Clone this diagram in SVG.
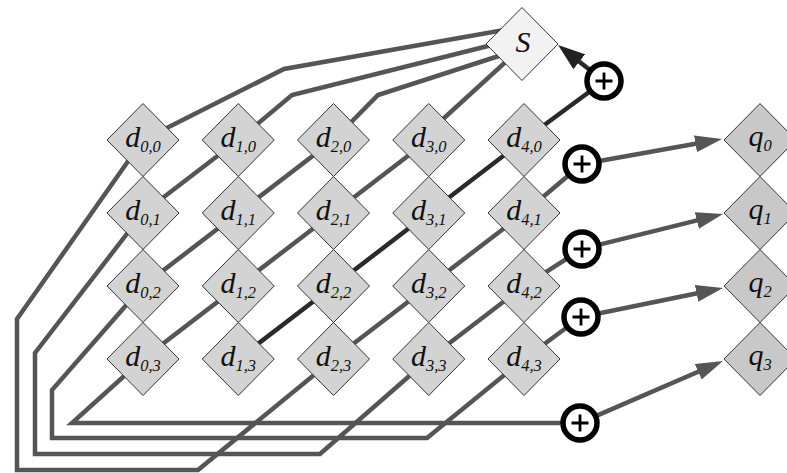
<svg xmlns="http://www.w3.org/2000/svg" width="787" height="473" viewBox="0 0 787 473">
<style>
.ln{fill:none;stroke:#555;stroke-width:4.5;stroke-linejoin:miter}
.dk{fill:none;stroke:#2a2a2a;stroke-width:4.5}
.dd{fill:#d3d3d3;stroke:#333;stroke-width:1}
.qd{fill:#c8c8c8;stroke:#333;stroke-width:1}
.sd{fill:#f2f2f2;stroke:#333;stroke-width:1}
.lb{font-family:"Liberation Serif","Times New Roman",serif;font-style:italic;font-size:30px;fill:#111}
.sb{font-size:16.5px}
.xo circle{fill:#fff;stroke:#000;stroke-width:5.5}
.xo path{stroke:#000;stroke-width:2.8;fill:none}
</style>
<defs>
<polygon id="dia" points="0,-36.5 36,0 0,36.5 -36,0"/>
<marker id="ah" markerUnits="userSpaceOnUse" viewBox="0 0 27 17" markerWidth="27" markerHeight="17" refX="17" refY="8.5" orient="auto"><path d="M0,0 L27,8.5 L0,17 Z" fill="#555"/></marker>
<marker id="ahd" markerUnits="userSpaceOnUse" viewBox="0 0 27 19" markerWidth="27" markerHeight="19" refX="17" refY="9.5" orient="auto"><path d="M0,0 L27,9.5 L0,19 Z" fill="#222"/></marker>
</defs>
<g id="connectors">
<path class="ln" d="M510,29 L284,69 L143,140 L17,319 L17,470 L198,470 L333.5,359 L428.75,286 L524,213 L582,164"/>
<path class="ln" d="M500,43 L292,95 L238.25,140 L143,213 L35,353 L35,454 L320,454 L428.75,359 L524,286 L582,249"/>
<path class="ln" d="M505,54 L378,95 L333.5,140 L143,286 L52,390 L52,438 L427,438 L524,359 L581,317"/>
<path class="ln" d="M510,58 L443,119 L428.75,140 L143,359 L72,423 L580,423"/>
<path class="dk" d="M238.25,359 L333.5,286 L428.75,213 L524,140 L604,81"/>
<path class="dk" d="M589,69.3 L565.9,51.2" marker-end="url(#ahd)"/>
<path class="ln" d="M600.7,160.7 L712.2,140.8" marker-end="url(#ah)"/>
<path class="ln" d="M600.4,244.4 L713.3,216.4" marker-end="url(#ah)"/>
<path class="ln" d="M599.6,313.2 L713.2,290" marker-end="url(#ah)"/>
<path class="ln" d="M597.4,415.4 L713.8,365" marker-end="url(#ah)"/>
</g>
<g id="S"><use href="#dia" class="sd" x="522" y="44"/><text class="lb" x="523" y="52" text-anchor="middle">S</text></g>
<g id="d00"><use href="#dia" class="dd" x="143" y="140"/><text class="lb" x="143" y="147" text-anchor="middle">d<tspan class="sb" dy="5">0,0</tspan></text></g>
<g id="d10"><use href="#dia" class="dd" x="238.25" y="140"/><text class="lb" x="238.25" y="147" text-anchor="middle">d<tspan class="sb" dy="5">1,0</tspan></text></g>
<g id="d20"><use href="#dia" class="dd" x="333.5" y="140"/><text class="lb" x="333.5" y="147" text-anchor="middle">d<tspan class="sb" dy="5">2,0</tspan></text></g>
<g id="d30"><use href="#dia" class="dd" x="428.75" y="140"/><text class="lb" x="428.75" y="147" text-anchor="middle">d<tspan class="sb" dy="5">3,0</tspan></text></g>
<g id="d40"><use href="#dia" class="dd" x="524" y="140"/><text class="lb" x="524" y="147" text-anchor="middle">d<tspan class="sb" dy="5">4,0</tspan></text></g>
<g id="d01"><use href="#dia" class="dd" x="143" y="213"/><text class="lb" x="143" y="220" text-anchor="middle">d<tspan class="sb" dy="5">0,1</tspan></text></g>
<g id="d11"><use href="#dia" class="dd" x="238.25" y="213"/><text class="lb" x="238.25" y="220" text-anchor="middle">d<tspan class="sb" dy="5">1,1</tspan></text></g>
<g id="d21"><use href="#dia" class="dd" x="333.5" y="213"/><text class="lb" x="333.5" y="220" text-anchor="middle">d<tspan class="sb" dy="5">2,1</tspan></text></g>
<g id="d31"><use href="#dia" class="dd" x="428.75" y="213"/><text class="lb" x="428.75" y="220" text-anchor="middle">d<tspan class="sb" dy="5">3,1</tspan></text></g>
<g id="d41"><use href="#dia" class="dd" x="524" y="213"/><text class="lb" x="524" y="220" text-anchor="middle">d<tspan class="sb" dy="5">4,1</tspan></text></g>
<g id="d02"><use href="#dia" class="dd" x="143" y="286"/><text class="lb" x="143" y="293" text-anchor="middle">d<tspan class="sb" dy="5">0,2</tspan></text></g>
<g id="d12"><use href="#dia" class="dd" x="238.25" y="286"/><text class="lb" x="238.25" y="293" text-anchor="middle">d<tspan class="sb" dy="5">1,2</tspan></text></g>
<g id="d22"><use href="#dia" class="dd" x="333.5" y="286"/><text class="lb" x="333.5" y="293" text-anchor="middle">d<tspan class="sb" dy="5">2,2</tspan></text></g>
<g id="d32"><use href="#dia" class="dd" x="428.75" y="286"/><text class="lb" x="428.75" y="293" text-anchor="middle">d<tspan class="sb" dy="5">3,2</tspan></text></g>
<g id="d42"><use href="#dia" class="dd" x="524" y="286"/><text class="lb" x="524" y="293" text-anchor="middle">d<tspan class="sb" dy="5">4,2</tspan></text></g>
<g id="d03"><use href="#dia" class="dd" x="143" y="359"/><text class="lb" x="143" y="366" text-anchor="middle">d<tspan class="sb" dy="5">0,3</tspan></text></g>
<g id="d13"><use href="#dia" class="dd" x="238.25" y="359"/><text class="lb" x="238.25" y="366" text-anchor="middle">d<tspan class="sb" dy="5">1,3</tspan></text></g>
<g id="d23"><use href="#dia" class="dd" x="333.5" y="359"/><text class="lb" x="333.5" y="366" text-anchor="middle">d<tspan class="sb" dy="5">2,3</tspan></text></g>
<g id="d33"><use href="#dia" class="dd" x="428.75" y="359"/><text class="lb" x="428.75" y="366" text-anchor="middle">d<tspan class="sb" dy="5">3,3</tspan></text></g>
<g id="d43"><use href="#dia" class="dd" x="524" y="359"/><text class="lb" x="524" y="366" text-anchor="middle">d<tspan class="sb" dy="5">4,3</tspan></text></g>
<g id="q0"><use href="#dia" class="qd" x="760" y="140"/><text class="lb" x="760" y="146" text-anchor="middle">q<tspan class="sb" dy="5">0</tspan></text></g>
<g id="q1"><use href="#dia" class="qd" x="760" y="213"/><text class="lb" x="760" y="219" text-anchor="middle">q<tspan class="sb" dy="5">1</tspan></text></g>
<g id="q2"><use href="#dia" class="qd" x="760" y="286"/><text class="lb" x="760" y="292" text-anchor="middle">q<tspan class="sb" dy="5">2</tspan></text></g>
<g id="q3"><use href="#dia" class="qd" x="760" y="359"/><text class="lb" x="760" y="365" text-anchor="middle">q<tspan class="sb" dy="5">3</tspan></text></g>
<g id="xorS" class="xo"><circle cx="604" cy="81" r="17"/><path d="M595.5,81 H612.5 M604,72.5 V89.5"/></g>
<g id="xor0" class="xo"><circle cx="582" cy="164" r="17"/><path d="M573.5,164 H590.5 M582,155.5 V172.5"/></g>
<g id="xor1" class="xo"><circle cx="582" cy="249" r="17"/><path d="M573.5,249 H590.5 M582,240.5 V257.5"/></g>
<g id="xor2" class="xo"><circle cx="581" cy="317" r="17"/><path d="M572.5,317 H589.5 M581,308.5 V325.5"/></g>
<g id="xor3" class="xo"><circle cx="580" cy="423" r="17"/><path d="M571.5,423 H588.5 M580,414.5 V431.5"/></g>
</svg>
